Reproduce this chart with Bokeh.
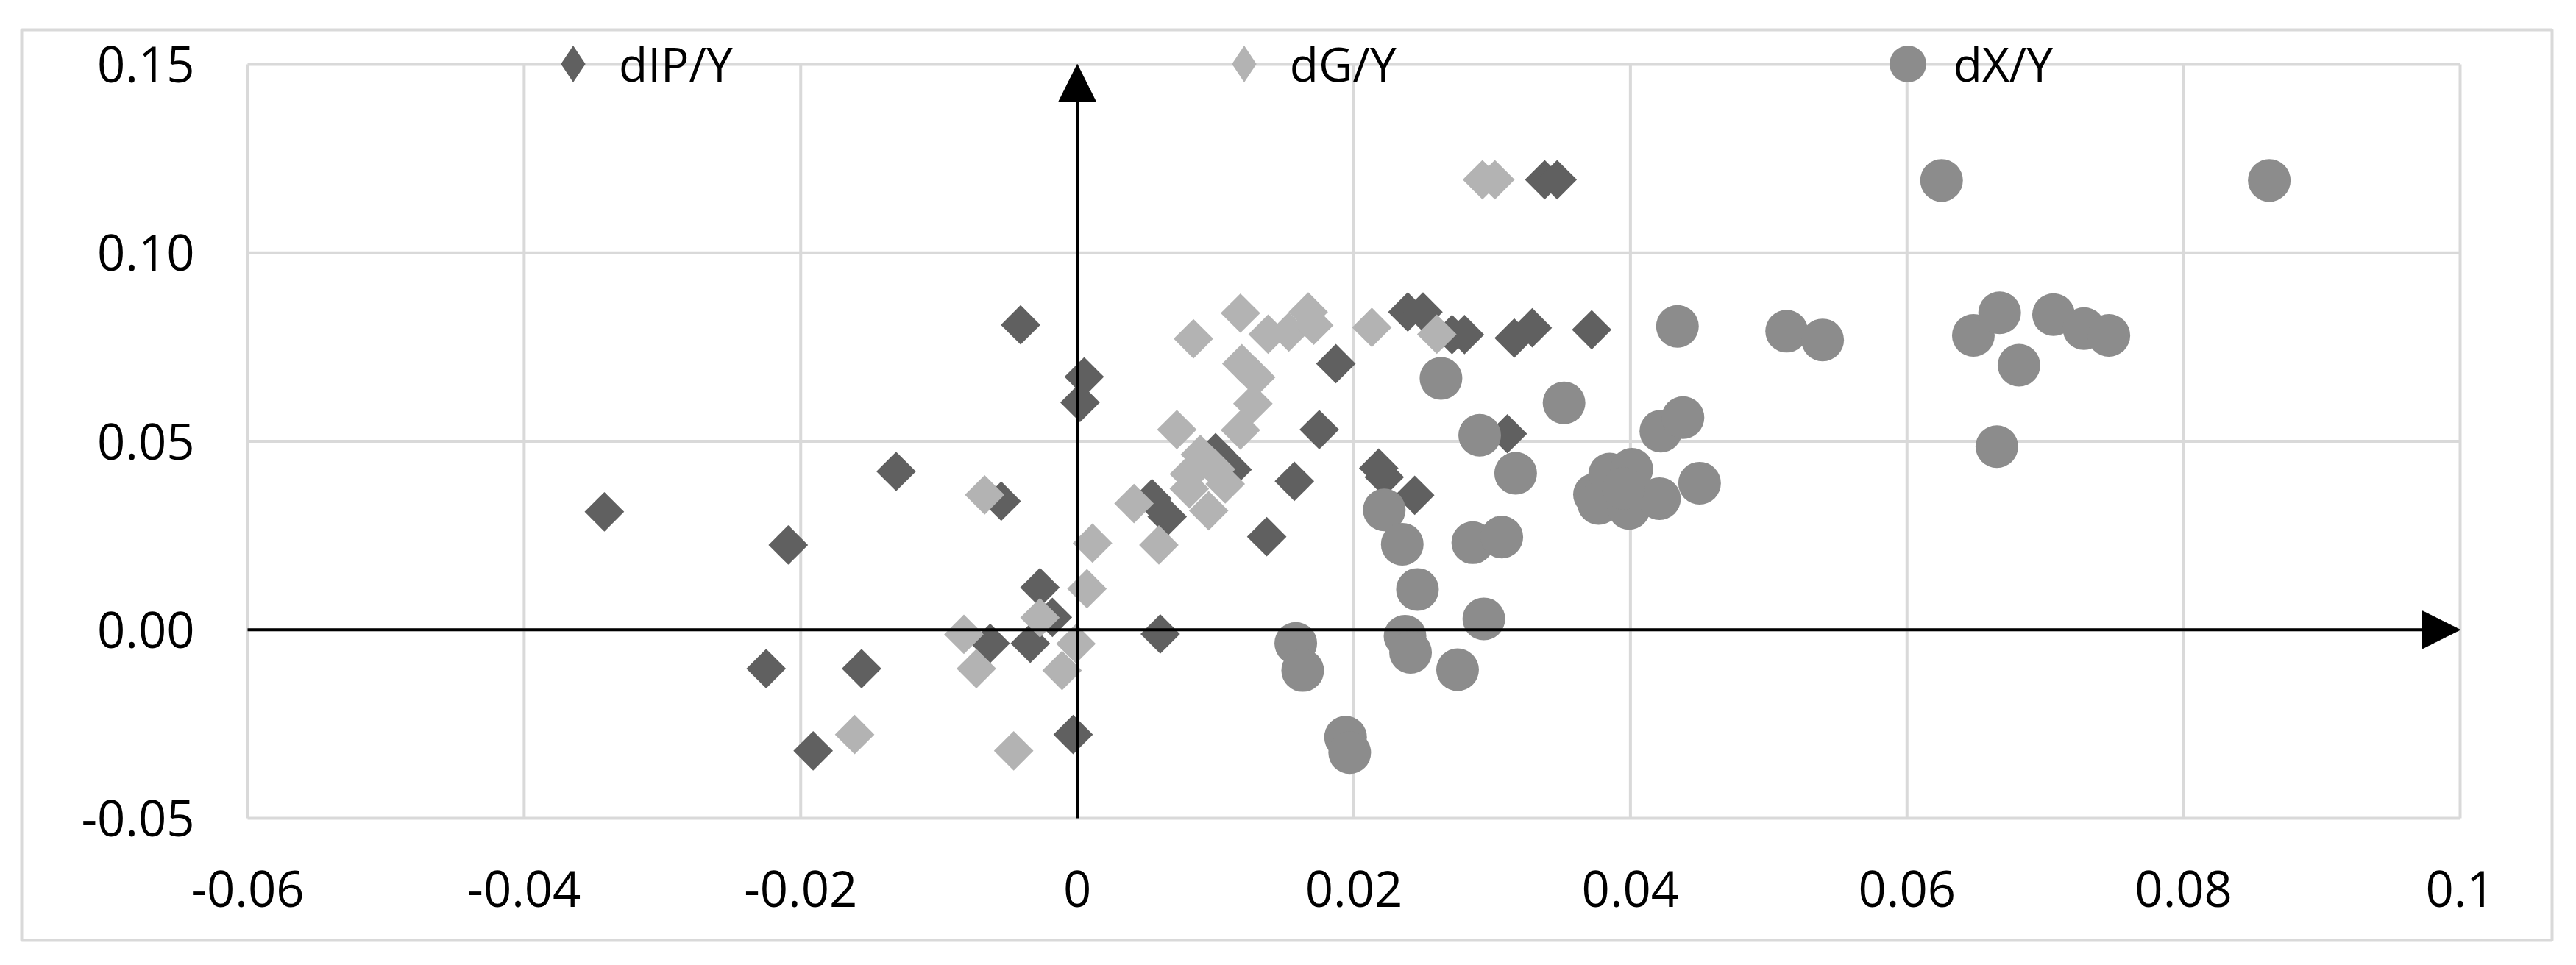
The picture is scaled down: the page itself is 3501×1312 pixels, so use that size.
import numpy as np
from bokeh.plotting import figure
from bokeh.models import (Range1d, Legend, LegendItem, Arrow, NormalHead)
from bokeh.core.properties import value
from bokeh.embed import file_html
from bokeh.resources import INLINE

# ---- data ----
series_names = ["dIP/Y", "dG/Y", "dX/Y"]

dip_x = [-0.0342, -0.0209, -0.0225, -0.0156, -0.0191, -0.0131, -0.0055, -0.0041,
         -0.0063, -0.0034, -0.0027, -0.0018, -0.0003, 0.0005, 0.0002, 0.0060,
         0.0054, 0.0065, 0.0100, 0.0112, 0.0137, 0.0157, 0.0175, 0.0187,
         0.0218, 0.0222, 0.0244, 0.0311, 0.0239, 0.0250, 0.0271, 0.0280,
         0.0316, 0.0329, 0.0372, 0.0338, 0.0347]
dip_y = [0.0313, 0.0225, -0.0103, -0.0103, -0.0321, 0.0420, 0.0341, 0.0809,
         -0.0036, -0.0036, 0.0112, 0.0033, -0.0278, 0.0671, 0.0603, -0.0011,
         0.0348, 0.0300, 0.0470, 0.0425, 0.0247, 0.0394, 0.0531, 0.0706,
         0.0429, 0.0405, 0.0357, 0.0520, 0.0843, 0.0843, 0.0783, 0.0783,
         0.0774, 0.0801, 0.0796, 0.1194, 0.1194]

dg_x = [-0.0161, -0.0067, -0.0082, -0.0073, -0.0046, -0.0027, -0.0001, -0.0011,
        0.0011, 0.0007, 0.0041, 0.0059, 0.0072, 0.0084, 0.0118, 0.0138,
        0.0153, 0.0167, 0.0171, 0.0119, 0.0129, 0.0127, 0.0118, 0.0089,
        0.0100, 0.0081, 0.0095, 0.0107, 0.0081, 0.0213, 0.0260, 0.0293, 0.0302]
dg_y = [-0.0278, 0.0358, -0.0012, -0.0103, -0.0321, 0.0032, -0.0037, -0.0108,
        0.0230, 0.0109, 0.0335, 0.0225, 0.0531, 0.0772, 0.0840, 0.0784,
        0.0790, 0.0843, 0.0808, 0.0706, 0.0670, 0.0600, 0.0530, 0.0465,
        0.0426, 0.0374, 0.0316, 0.0387, 0.0413, 0.0802, 0.0784, 0.1194, 0.1194]

dx_x = [0.0158, 0.0163, 0.0194, 0.0197, 0.0222, 0.0235, 0.0246, 0.0237, 0.0241,
        0.0275, 0.0286, 0.0307, 0.0294, 0.0263, 0.0291, 0.0317, 0.0352, 0.0434,
        0.0422, 0.0438, 0.0450, 0.0374, 0.0385, 0.0401, 0.0377, 0.0399, 0.0421,
        0.0395, 0.0513, 0.0539, 0.0625, 0.0862, 0.0648, 0.0667, 0.0681, 0.0706,
        0.0728, 0.0746, 0.0665]
dx_y = [-0.0036, -0.0108, -0.0285, -0.0326, 0.0318, 0.0227, 0.0107, -0.0017,
        -0.0060, -0.0106, 0.0231, 0.0246, 0.0029, 0.0667, 0.0516, 0.0415,
        0.0602, 0.0805, 0.0527, 0.0563, 0.0389, 0.0359, 0.0413, 0.0426, 0.0335,
        0.0322, 0.0348, 0.0375, 0.0792, 0.0769, 0.1192, 0.1192, 0.0781, 0.0841,
        0.0702, 0.0836, 0.0799, 0.0781, 0.0486]

x_ticks = [-0.06, -0.04, -0.02, 0.0, 0.02, 0.04, 0.06, 0.08, 0.1]
x_tick_labels = ["-0.06", "-0.04", "-0.02", "0", "0.02", "0.04", "0.06", "0.08", "0.1"]
y_ticks = [-0.05, 0.0, 0.05, 0.1, 0.15]
y_tick_labels = ["-0.05", "0.00", "0.05", "0.10", "0.15"]

# ---- layout (page pixels; Bokeh's page template has no body margin) ----
PAGE_MARGIN = 0
W, H = 3485, 1296
BOX_L, BOX_T, BOX_R, BOX_B = 29, 40, 3468, 1278      # outer chart border
PLOT_L, PLOT_R, PLOT_T, PLOT_B = 336, 3343, 87, 1112  # plot area (grid extent)

sx = (PLOT_R - PLOT_L) / (x_ticks[-1] - x_ticks[0])
sy = (PLOT_B - PLOT_T) / (y_ticks[-1] - y_ticks[0])
x_lo = x_ticks[0] - (PLOT_L - BOX_L) / sx
x_hi = x_ticks[-1] + (BOX_R - PLOT_R) / sx
y_hi = y_ticks[-1] + (PLOT_T - BOX_T) / sy
y_lo = y_ticks[0] - (BOX_B - PLOT_B) / sy

# ---- styling ----
FONT = "Open Sans"
GRID = "#d9d9d9"
C_DIP = "#606060"
C_DG = "#b3b3b3"
C_DX = "#8c8c8c"

p = figure(width=W, height=H, output_backend="svg", toolbar_location=None,
           x_range=Range1d(x_lo, x_hi), y_range=Range1d(y_lo, y_hi),
           x_axis_location=None, y_axis_location=None,
           min_border_left=BOX_L - PAGE_MARGIN,
           min_border_right=W - (BOX_R - PAGE_MARGIN),
           min_border_top=BOX_T - PAGE_MARGIN,
           min_border_bottom=H - (BOX_B - PAGE_MARGIN))
p.outline_line_color = GRID
p.outline_line_width = 4
p.background_fill_color = "white"
p.border_fill_color = "white"
p.xgrid.visible = False
p.ygrid.visible = False

# grid lines limited to the plot area
p.segment(x0=x_ticks, y0=[y_ticks[0]] * len(x_ticks),
          x1=x_ticks, y1=[y_ticks[-1]] * len(x_ticks),
          line_color=GRID, line_width=4, level="underlay")
p.segment(x0=[x_ticks[0]] * len(y_ticks), y0=y_ticks,
          x1=[x_ticks[-1]] * len(y_ticks), y1=y_ticks,
          line_color=GRID, line_width=4, level="underlay")

# tick labels
p.text(x=x_ticks, y=[y_ticks[0]] * len(x_ticks), text=x_tick_labels,
       text_font=value(FONT), text_font_size="67px", text_color="black",
       text_align="center", text_baseline="middle", y_offset=96)
p.text(x=[x_ticks[0]] * len(y_ticks), y=y_ticks, text=y_tick_labels,
       text_font=value(FONT), text_font_size="67px", text_color="black",
       text_align="right", text_baseline="middle", x_offset=-72)

# axes with arrow heads through the origin (below the markers)
p.add_layout(Arrow(end=NormalHead(size=51, fill_color="black", line_color="black", line_width=1),
                   x_start=0, y_start=y_ticks[0], x_end=0, y_end=y_ticks[-1],
                   line_color="black", line_width=4, level="glyph"))
p.add_layout(Arrow(end=NormalHead(size=51, fill_color="black", line_color="black", line_width=1),
                   x_start=x_ticks[0], y_start=0, x_end=x_ticks[-1], y_end=0,
                   line_color="black", line_width=4, level="glyph"))

r1 = p.scatter(dip_x, dip_y, marker="square", size=38, angle=np.pi / 4,
               fill_color=C_DIP, line_color=None)
r2 = p.scatter(dg_x, dg_y, marker="square", size=38, angle=np.pi / 4,
               fill_color=C_DG, line_color=None)
r3 = p.scatter(dx_x, dx_y, marker="circle", size=58,
               fill_color=C_DX, line_color=None)

# legend keys: diamond-shaped swatches (no visible data points)
nan = np.array([np.nan])
k1 = p.scatter(x=nan, y=nan, marker="diamond", fill_color=C_DIP, line_color=None)
k2 = p.scatter(x=nan, y=nan, marker="diamond", fill_color=C_DG, line_color=None)
k3 = p.scatter(x=nan, y=nan, marker="circle", fill_color=C_DX, line_color=None)

GLYPH = 125
legend = Legend(items=[LegendItem(label=series_names[0], renderers=[k1]),
                       LegendItem(label=series_names[1], renderers=[k2]),
                       LegendItem(label=series_names[2], renderers=[k3])],
                orientation="horizontal",
                location=(778 - GLYPH // 2 - BOX_L, BOX_B - PLOT_T - GLYPH // 2),
                glyph_width=GLYPH, glyph_height=GLYPH, label_height=GLYPH,
                label_standoff=-16, spacing=632, padding=0, margin=0,
                label_width=0,
                border_line_color=None, background_fill_alpha=0,
                label_text_font=FONT, label_text_font_size="64px",
                label_text_color="black")
p.add_layout(legend)

open("out.html", "w").write(file_html(p, INLINE))
